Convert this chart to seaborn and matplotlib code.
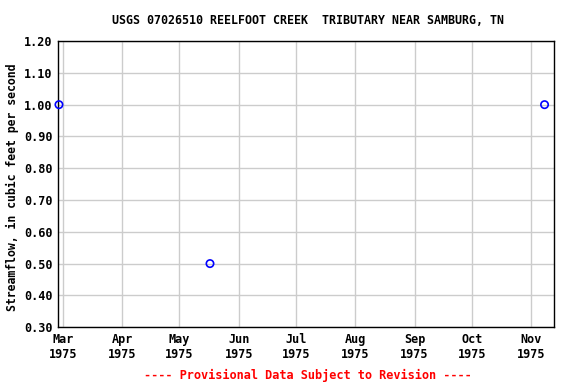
import matplotlib
matplotlib.use("Agg")
import matplotlib.pyplot as plt
import matplotlib.dates as mdates
import seaborn as sns
import pandas as pd

dates = ["1975-02-27", "1975-05-17", "1975-11-08"]
flow = [1.00, 0.50, 1.00]
tick_dates = ["1975-03-01", "1975-04-01", "1975-05-01", "1975-06-01", "1975-07-01",
              "1975-08-01", "1975-09-01", "1975-10-01", "1975-11-01"]
tick_labels = ["Mar\n1975", "Apr\n1975", "May\n1975", "Jun\n1975", "Jul\n1975",
               "Aug\n1975", "Sep\n1975", "Oct\n1975", "Nov\n1975"]
y_ticks = [0.30, 0.40, 0.50, 0.60, 0.70, 0.80, 0.90, 1.00, 1.10, 1.20]

df = pd.DataFrame({"date": pd.to_datetime(dates), "flow": flow})

sns.set_style("white")
plt.rcParams['font.family'] = ['DejaVu Sans Mono', 'DejaVu Sans']
plt.rcParams['text.color'] = 'black'
plt.rcParams['xtick.color'] = 'black'
plt.rcParams['ytick.color'] = 'black'
plt.rcParams['axes.labelcolor'] = 'black'

fig = plt.figure(figsize=(5.76, 3.84), dpi=100)
ax = fig.add_axes([0.1007, 0.148, 0.8613, 0.745])

sns.scatterplot(data=df, x="date", y="flow", ax=ax, marker="o", s=28,
                facecolors="none", edgecolor="#0000ff", linewidth=1.2, zorder=5,
                clip_on=False)

ax.set_xlim(pd.Timestamp("1975-02-26 12:00"), pd.Timestamp("1975-11-13"))
ax.set_ylim(0.30, 1.20)
ax.set_xticks(pd.to_datetime(tick_dates))
ax.set_xticklabels(tick_labels, fontsize=8.5, fontweight="bold")
ax.set_yticks(y_ticks)
ax.set_yticklabels([f"{v:.2f}" for v in y_ticks], fontsize=8.5, fontweight="bold")
ax.grid(True, color="#cccccc", linewidth=1)
ax.set_axisbelow(True)
for sp in ax.spines.values():
    sp.set_color("black")
    sp.set_linewidth(1)
ax.tick_params(length=0, pad=4)
ax.set_xlabel("")
ax.set_ylabel("Streamflow, in cubic feet per second", fontsize=8.3, fontweight="bold")
ax.yaxis.set_label_coords(-0.078, 0.49)

fig.text(0.535, 0.947, "USGS 07026510 REELFOOT CREEK  TRIBUTARY NEAR SAMBURG, TN",
         ha="center", va="center", fontsize=8.4, fontweight="bold")
fig.text(0.535, 0.023, "---- Provisional Data Subject to Revision ----",
         ha="center", va="center", fontsize=8.6, fontweight="bold", color="red")

fig.savefig("out.png", dpi=100)
